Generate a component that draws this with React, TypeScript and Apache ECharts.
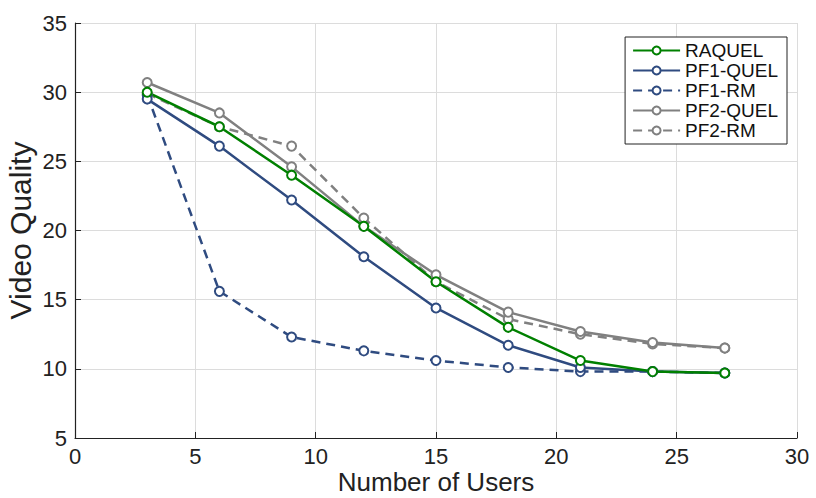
import React, { useEffect, useRef } from "react";
import * as echarts from "echarts";

const users = [3, 6, 9, 12, 15, 18, 21, 24, 27];
const raquel = [30.0, 27.5, 24.0, 20.3, 16.3, 13.0, 10.6, 9.8, 9.7];
const pf1Quel = [29.5, 26.1, 22.2, 18.1, 14.4, 11.7, 10.1, 9.8, 9.7];
const pf1Rm = [29.8, 15.6, 12.3, 11.3, 10.6, 10.1, 9.8, 9.8, 9.7];
const pf2Quel = [30.7, 28.5, 24.6, 20.3, 16.8, 14.1, 12.7, 11.9, 11.5];
const pf2Rm = [29.9, 27.5, 26.1, 20.9, 16.3, 13.6, 12.5, 11.8, 11.5];

const GREEN = "#008000";
const BLUE = "#2f4b80";
const GRAY = "#808080";
const FONT = "Liberation Sans";

function mk(name: string, vals: number[], color: string, dashed: boolean) {
  return {
    name,
    type: "line",
    data: users.map((u, i) => [u, vals[i]]),
    symbol: "emptyCircle",
    symbolSize: 9,
    showAllSymbol: true,
    lineStyle: { color, width: 2.5, type: dashed ? [9, 6] : "solid" },
    itemStyle: { color, borderColor: color, borderWidth: 2.2 },
  };
}

export default function App() {
  const ref = useRef<HTMLDivElement>(null);
  useEffect(() => {
    const chart = echarts.init(ref.current!, null, { renderer: "svg" });
    chart.setOption({
      animation: false,
      backgroundColor: "#ffffff",
      textStyle: { fontFamily: FONT },
      grid: {
        left: 75,
        right: 19,
        top: 23,
        bottom: 60,
        containLabel: false,
        outerBoundsMode: "none",
      },
      legend: {
        right: 29,
        top: 37,
        orient: "vertical",
        backgroundColor: "#ffffff",
        borderColor: "#222",
        borderWidth: 1,
        borderRadius: 0,
        padding: [4, 9, 4, 7],
        itemGap: 1,
        itemWidth: 47,
        itemHeight: 10,
        textStyle: { fontFamily: FONT, fontSize: 19, lineHeight: 19, color: "#111" },
        data: ["RAQUEL", "PF1-QUEL", "PF1-RM", "PF2-QUEL", "PF2-RM"],
      },
      xAxis: {
        type: "value",
        min: 0,
        max: 30,
        interval: 5,
        name: "Number of Users",
        nameLocation: "middle",
        nameGap: 33,
        nameMoveOverlap: false,
        nameTextStyle: { fontFamily: FONT, fontSize: 26, lineHeight: 22, color: "#222" },
        axisLine: { show: true, lineStyle: { color: "#222", width: 1.2 } },
        axisTick: { show: true, inside: true, length: 6, lineStyle: { color: "#222" } },
        axisLabel: { fontFamily: FONT, fontSize: 22, lineHeight: 21, color: "#222", margin: 8 },
        splitLine: { show: true, lineStyle: { color: "#dcdcdc", width: 1 } },
      },
      yAxis: {
        type: "value",
        min: 5,
        max: 35,
        interval: 5,
        name: "Video Quality",
        nameLocation: "middle",
        nameGap: 40,
        nameMoveOverlap: false,
        nameTextStyle: { fontFamily: FONT, fontSize: 30, lineHeight: 30, color: "#222" },
        axisLine: { show: true, lineStyle: { color: "#222", width: 1.2 } },
        axisTick: { show: true, inside: true, length: 6, lineStyle: { color: "#222" } },
        axisLabel: { fontFamily: FONT, fontSize: 22, color: "#222", margin: 8 },
        splitLine: { show: true, lineStyle: { color: "#dcdcdc", width: 1 } },
      },
      series: [
        mk("PF2-RM", pf2Rm, GRAY, true),
        mk("PF2-QUEL", pf2Quel, GRAY, false),
        mk("PF1-RM", pf1Rm, BLUE, true),
        mk("PF1-QUEL", pf1Quel, BLUE, false),
        mk("RAQUEL", raquel, GREEN, false),
      ],
    });
    return () => chart.dispose();
  }, []);
  return (
    <div
      ref={ref}
      style={{ position: "fixed", left: 0, top: 0, width: 816, height: 498, background: "#fff" }}
    />
  );
}
